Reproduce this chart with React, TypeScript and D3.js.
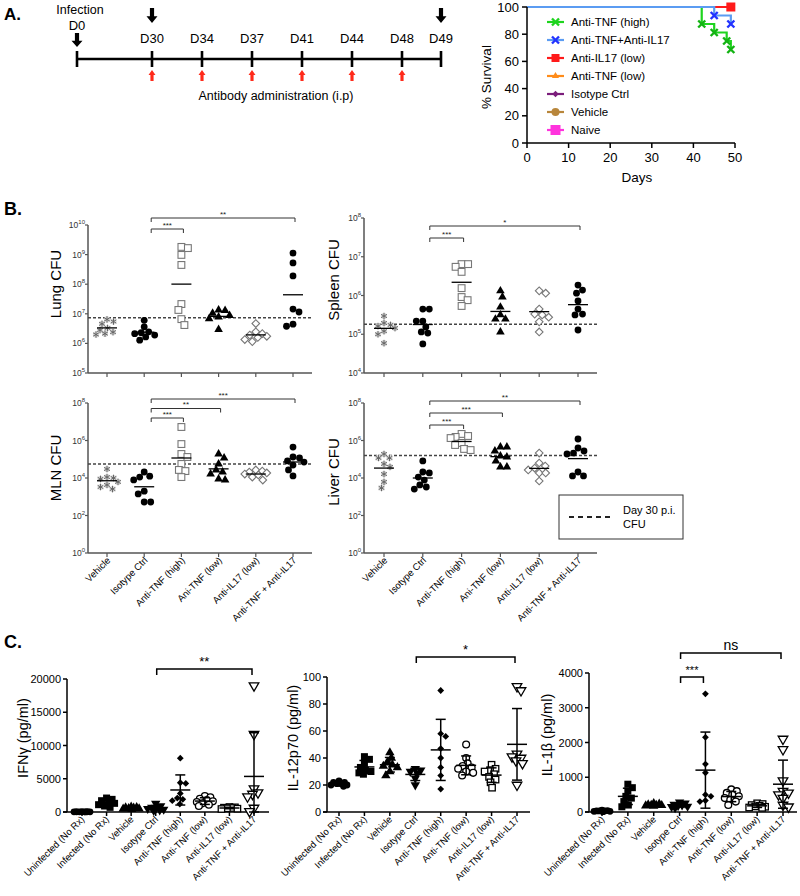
import React from 'react';
import * as d3 from 'd3';

const FONT = "'Liberation Sans', Arial, Helvetica, sans-serif";

// ---------------- Panel A: timeline ----------------
const timelineStart = 'D0';
const timelineDoses = ['D30', 'D34', 'D37', 'D41', 'D44', 'D48'];
const timelineEnd = 'D49';
const harvestDays = ['D30', 'D49'];

// ---------------- Panel A: survival ----------------
const survivalNames = ['Anti-TNF (high)', 'Anti-TNF+Anti-IL17', 'Anti-IL17 (low)', 'Anti-TNF (low)', 'Isotype Ctrl', 'Vehicle', 'Naive'];
const survTnfHighDays = [0, 42, 45, 48, 49];
const survTnfHighPct = [100, 87.5, 81.25, 75, 68.75];
const survComboDays = [0, 45, 49];
const survComboPct = [100, 93.75, 87.5];
const survFlatDays = [0, 49];
const survFlatPct = [100, 100];
const survTicksX = [0, 10, 20, 30, 40, 50];
const survTicksY = [0, 20, 40, 60, 80, 100];

// ---------------- Panel B: CFU (log10) ----------------
const cfuGroups = ['Vehicle', 'Isotype Ctrl', 'Anti-TNF (high)', 'Ani-TNF (low)', 'Anti-IL17 (low)', 'Anti-TNF + Anti-IL17'];
const cfuMarkers = ['asterisk', 'dot', 'squareOpen', 'triangle', 'diamondOpen', 'dot'];

const lungVehicle = [6.81, 6.74, 6.66, 6.52, 6.45, 6.38, 6.33, 6.30];
const lungIsotype = [6.78, 6.56, 6.39, 6.36, 6.33, 6.28, 6.22, 6.11];
const lungTnfHigh = [9.26, 9.22, 8.99, 8.65, 7.33, 7.13, 6.82, 6.62];
const lungTnfLow = [7.13, 7.11, 7.02, 6.94, 6.89, 6.83, 6.47];
const lungIl17 = [6.67, 6.39, 6.33, 6.28, 6.24, 6.20, 6.13, 6.06];
const lungCombo = [9.05, 8.72, 8.28, 7.16, 7.06, 6.65, 6.58];
const lungDay30 = 6.865;

const spleenVehicle = [5.47, 5.29, 5.24, 5.21, 5.16, 5.08, 5.00, 4.77];
const spleenIsotype = [5.65, 5.65, 5.34, 5.34, 5.19, 5.06, 5.03, 4.75];
const spleenTnfHigh = [6.81, 6.81, 6.74, 6.61, 6.19, 5.96, 5.88, 5.73];
const spleenTnfLow = [6.12, 5.96, 5.70, 5.50, 5.39, 5.39, 5.06];
const spleenIl17 = [6.12, 6.06, 5.65, 5.52, 5.50, 5.44, 5.32, 5.06];
const spleenCombo = [6.27, 6.14, 6.06, 5.86, 5.65, 5.52, 5.50, 5.11];
const spleenDay30 = 5.26;

const mlnVehicle = [4.48, 4.05, 3.95, 4.00, 3.79, 3.63, 3.52, 3.41];
const mlnIsotype = [4.32, 4.10, 4.05, 3.90, 3.30, 3.15, 2.72, 2.72];
const mlnTnfHigh = [6.72, 5.81, 5.28, 5.12, 4.75, 4.43, 4.37, 4.05];
const mlnTnfLow = [5.28, 5.07, 4.75, 4.43, 4.32, 4.21, 3.95, 3.89];
const mlnIl17 = [4.43, 4.37, 4.32, 4.27, 4.21, 4.16, 4.05, 3.89];
const mlnCombo = [5.65, 5.12, 5.07, 4.91, 4.85, 4.69, 4.43, 4.11];
const mlnDay30 = 4.75;

const liverVehicle = [5.28, 5.07, 5.07, 4.75, 4.59, 4.21, 3.79, 3.47];
const liverIsotype = [4.91, 4.32, 4.27, 4.05, 3.89, 3.63, 3.52, 3.41];
const liverTnfHigh = [6.35, 6.24, 6.19, 6.13, 5.87, 5.76, 5.55, 5.49];
const liverTnfLow = [5.65, 5.65, 5.44, 5.17, 5.12, 4.91, 4.59, 4.59];
const liverIl17 = [5.33, 4.80, 4.64, 4.53, 4.43, 4.27, 4.27, 3.84];
const liverCombo = [6.08, 5.60, 5.44, 5.33, 5.28, 4.32, 4.11, 4.11];
const liverDay30 = 5.2;

// ---------------- Panel C: cytokines ----------------
const cytoGroups = ['Uninfected (No Rx)', 'Infected (No Rx)', 'Vehicle', 'Isotype Ctrl', 'Anti-TNF (high)', 'Anti-TNF (low)', 'Anti-IL17 (low)', 'Anti-TNF + Anti-IL17'];
const cytoMarkers = ['dot', 'square', 'triangle', 'triangleDown', 'diamond', 'circleOpen', 'squareOpen', 'triangleDownOpen'];

const ifnUninf = [60, 40, 30, 20, 10, 50, 20, 30];
const ifnInf = [2100, 1900, 1700, 1500, 1300, 1100, 900, 700];
const ifnVehicle = [750, 700, 650, 600, 550, 500, 450, 400];
const ifnIsotype = [1300, 900, 700, 600, 500, 400, 300, 200];
const ifnTnfHigh = [8100, 4400, 4300, 2800, 2100, 1900, 1700, 1200];
const ifnTnfLow = [2400, 2200, 2000, 1800, 1600, 1500, 1300, 1100, 900];
const ifnIl17 = [750, 700, 650, 600, 550, 500, 450];
const ifnCombo = [19000, 11700, 3500, 2900, 2700, 2300, 600, 100];
const ifnTicks = [0, 5000, 10000, 15000, 20000];

const il12Uninf = [23, 22, 22, 21, 21, 20, 20, 19];
const il12Inf = [41, 39, 36, 33, 30, 29, 28, 31];
const il12Vehicle = [44, 40, 37, 35, 34, 33, 30, 27];
const il12Isotype = [32, 31, 30, 29, 25, 20];
const il12TnfHigh = [90, 58, 56, 47, 40, 33, 27, 17];
const il12TnfLow = [50, 40, 36, 34, 33, 32, 30, 29, 27];
const il12Il17 = [35, 32, 31, 30, 28, 26, 24, 22, 18];
const il12Combo = [93, 90, 43, 41, 40, 38, 36, 20];
const il12Ticks = [0, 20, 40, 60, 80, 100];

const il1bUninf = [50, 40, 30, 30, 20, 20, 10, 30];
const il1bInf = [800, 700, 600, 450, 400, 300, 200, 150];
const il1bVehicle = [250, 230, 210, 200, 190, 180, 170, 200];
const il1bIsotype = [280, 250, 220, 200, 180, 150, 120, 160];
const il1bTnfHigh = [3400, 2150, 1380, 1130, 500, 450, 330, 300];
const il1bTnfLow = [650, 600, 550, 500, 450, 400, 350, 300, 200];
const il1bIl17 = [250, 230, 200, 180, 160, 150, 130, 120];
const il1bCombo = [2100, 1800, 900, 600, 550, 500, 400, 200, 150];
const il1bTicks = [0, 1000, 2000, 3000, 4000];

// ---------------- helpers ----------------
function swarm(ys: number[], d: number, maxOff: number): number[] {
  const order = ys.map((_, i) => i).sort((a, b) => ys[a] - ys[b]);
  const placed: [number, number][] = [];
  const out: number[] = new Array(ys.length).fill(0);
  let flip = 1;
  for (const i of order) {
    const yv = ys[i];
    let chosen = 0;
    let bestScore = Infinity;
    let found = false;
    for (let k = 0; k <= maxOff * 2 && !found; k++) {
      const off = k * 0.5;
      const cands = off === 0 ? [0] : [flip * off, -flip * off];
      for (const c of cands) {
        let minD = Infinity;
        for (const [px, py] of placed) minD = Math.min(minD, Math.hypot(px - c, py - yv));
        if (minD >= d) { chosen = c; found = true; break; }
        const score = -minD;
        if (score < bestScore) { bestScore = score; chosen = c; }
      }
    }
    if (chosen !== 0) flip = -flip;
    out[i] = chosen;
    placed.push([chosen, yv]);
  }
  return out;
}

const sym = (t: any, s: number) => d3.symbol().type(t).size(s)() as string;

function Mark({ kind, x, y }: { kind: string; x: number; y: number }) {
  const tr = `translate(${x},${y})`;
  switch (kind) {
    case 'asterisk':
      return (
        <g transform={tr}>
          <circle r={3.1} fill="#d8d8d8" />
          <path d={sym(d3.symbolAsterisk, 30)} stroke="#666" strokeWidth={1} fill="none" />
        </g>
      );
    case 'dot':
      return <circle cx={x} cy={y} r={3.4} fill="#000" />;
    case 'squareOpen':
      return <rect x={x - 3.4} y={y - 3.4} width={6.8} height={6.8} fill="#fff" stroke="#777" strokeWidth={1.1} />;
    case 'triangle':
      return <path transform={tr} d={sym(d3.symbolTriangle, 32)} fill="#000" />;
    case 'diamondOpen':
      return <rect transform={tr + ' rotate(45)'} x={-2.7} y={-2.7} width={5.4} height={5.4} fill="#fff" stroke="#777" strokeWidth={1.1} />;
    // panel C kinds
    case 'cDot':
      return <circle cx={x} cy={y} r={3.4} fill="#000" />;
    case 'cSquare':
      return <rect x={x - 3.5} y={y - 3.5} width={7} height={7} fill="#000" />;
    case 'cTriangle':
      return <path transform={tr} d={sym(d3.symbolTriangle, 38)} fill="#000" />;
    case 'cTriangleDown':
      return <path transform={tr + ' rotate(180)'} d={sym(d3.symbolTriangle, 38)} fill="#000" />;
    case 'cTriangleDownOpen':
      return <path transform={tr + ' rotate(180)'} d={sym(d3.symbolTriangle, 40)} fill="#fff" stroke="#000" strokeWidth={1.3} />;
    case 'cDiamond':
      return <rect transform={tr + ' rotate(45)'} x={-2.4} y={-2.4} width={4.8} height={4.8} fill="#000" />;
    case 'cCircleOpen':
      return <circle cx={x} cy={y} r={3.4} fill="#fff" stroke="#000" strokeWidth={1.3} />;
    case 'cSquareOpen':
      return <rect x={x - 3.2} y={y - 3.2} width={6.4} height={6.4} fill="#fff" stroke="#000" strokeWidth={1.3} />;
    default:
      return null;
  }
}

// ---------------- Panel A ----------------
function DownArrow({ x, y0, y1, w, color }: any) {
  const head = (y1 - y0) * 0.45;
  const sw = w * 0.38;
  const d = `M${x - sw / 2},${y0} L${x + sw / 2},${y0} L${x + sw / 2},${y1 - head} L${x + w / 2},${y1 - head} L${x},${y1} L${x - w / 2},${y1 - head} L${x - sw / 2},${y1 - head} Z`;
  return <path d={d} fill={color} />;
}
function UpArrow({ x, y0, y1, w, color }: any) {
  const head = (y1 - y0) * 0.45;
  const sw = w * 0.45;
  const d = `M${x},${y0} L${x + w / 2},${y0 + head} L${x + sw / 2},${y0 + head} L${x + sw / 2},${y1} L${x - sw / 2},${y1} L${x - sw / 2},${y0 + head} L${x - w / 2},${y0 + head} Z`;
  return <path d={d} fill={color} />;
}

function Timeline() {
  const x0 = 77, x1 = 441, ly = 59;
  const xd = d3.scalePoint<string>().domain(timelineDoses).range([152, 402]);
  const pos = (d: string) => (d === timelineStart ? x0 : d === timelineEnd ? x1 : (xd(d) as number));
  const all = [timelineStart, ...timelineDoses, timelineEnd];
  return (
    <g>
      <text x={4} y={20} fontSize={17} fontWeight="bold">A.</text>
      <line x1={x0} x2={x1} y1={ly} y2={ly} stroke="#000" strokeWidth={2.6} />
      {all.map((d) => (
        <line key={d} x1={pos(d)} x2={pos(d)} y1={51} y2={67} stroke="#000" strokeWidth={2.6} />
      ))}
      {all.map((d) => (
        <text key={'t' + d} x={pos(d)} y={d === timelineStart ? 30 : 43} fontSize={13} textAnchor="middle">{d}</text>
      ))}
      <text x={x0 + 3} y={14} fontSize={12.5} textAnchor="middle">Infection</text>
      <DownArrow x={x0} y0={33} y1={47} w={11} color="#000" />
      {harvestDays.map((d) => (
        <DownArrow key={'h' + d} x={pos(d)} y0={8} y1={23} w={11} color="#000" />
      ))}
      {timelineDoses.map((d) => (
        <UpArrow key={'u' + d} x={pos(d)} y0={70} y1={81} w={7} color="#ff2a1a" />
      ))}
      <text x={276} y={100} fontSize={12.5} textAnchor="middle">Antibody administration (i.p)</text>
    </g>
  );
}

function Survival() {
  const x = d3.scaleLinear().domain([0, 50]).range([527, 735]);
  const y = d3.scaleLinear().domain([0, 100]).range([143, 7]);
  const line = d3.line<[number, number]>().x((d) => x(d[0])).y((d) => y(d[1])).curve(d3.curveStepAfter);
  const zip = (a: number[], b: number[]) => a.map((v, i) => [v, b[i]] as [number, number]);
  const green = '#1ed41e', blue = '#5b9cf2', blueMark = '#2233ff', red = '#ff1a1a';
  const otherColors = ['#ff8c1a', '#7b1d7b', '#b8863b', '#ff33dd'];
  const legendColors = [green, blue, red, '#ff8c1a', '#7b1d7b', '#b8863b', '#ff33dd'];
  const legendY = d3.scalePoint<string>().domain(survivalNames).range([22, 130]);
  const times = sym(d3.symbolTimes, 34);
  const legendMark = (i: number, cx: number, cy: number) => {
    const c = legendColors[i];
    const tr = `translate(${cx},${cy})`;
    if (i === 0) return <path transform={tr} d={times} stroke={green} strokeWidth={2.4} fill="none" />;
    if (i === 1) return <path transform={tr} d={times} stroke={blueMark} strokeWidth={2.4} fill="none" />;
    if (i === 2) return <rect x={cx - 4} y={cy - 4} width={8} height={8} fill={c} />;
    if (i === 3) return <path transform={tr} d={sym(d3.symbolTriangle, 22)} fill={c} />;
    if (i === 4) return <rect transform={tr + ' rotate(45)'} x={-2.3} y={-2.3} width={4.6} height={4.6} fill={c} />;
    if (i === 5) return <circle cx={cx} cy={cy} r={4} fill={c} />;
    return <rect x={cx - 5} y={cy - 5} width={10} height={10} fill={c} />;
  };
  return (
    <g>
      {otherColors.map((c, i) => (
        <path key={i} d={line(zip(survFlatDays, survFlatPct)) as string} stroke={c} strokeWidth={2} fill="none" />
      ))}
      <path d={line(zip(survFlatDays, survFlatPct)) as string} stroke={red} strokeWidth={2.2} fill="none" />
      <path d={line(zip(survTnfHighDays, survTnfHighPct)) as string} stroke={green} strokeWidth={2.2} fill="none" />
      <path d={line(zip(survComboDays, survComboPct)) as string} stroke={blue} strokeWidth={2.2} fill="none" />
      <rect x={x(49) - 4.5} y={y(100) - 4.5} width={9} height={9} fill={red} />
      {survComboDays.slice(1).map((d, i) => (
        <path key={'b' + i} transform={`translate(${x(d)},${y(survComboPct[i + 1])})`} d={times} stroke={blueMark} strokeWidth={2.4} fill="none" />
      ))}
      {survTnfHighDays.slice(1).map((d, i) => (
        <path key={'g' + i} transform={`translate(${x(d)},${y(survTnfHighPct[i + 1])})`} d={times} stroke="#13b313" strokeWidth={2.4} fill="none" />
      ))}
      <line x1={527} x2={527} y1={y(100)} y2={y(0)} stroke="#000" strokeWidth={1.5} />
      <line x1={527} x2={x(50)} y1={y(0)} y2={y(0)} stroke="#000" strokeWidth={1.5} />
      {survTicksY.map((t) => (
        <g key={'y' + t}>
          <line x1={522} x2={527} y1={y(t)} y2={y(t)} stroke="#000" strokeWidth={1.5} />
          <text x={519} y={y(t) + 4.5} fontSize={13} textAnchor="end">{t}</text>
        </g>
      ))}
      {survTicksX.map((t) => (
        <g key={'x' + t}>
          <line x1={x(t)} x2={x(t)} y1={143} y2={148} stroke="#000" strokeWidth={1.5} />
          <text x={x(t)} y={162} fontSize={13} textAnchor="middle">{t}</text>
        </g>
      ))}
      <text x={637} y={182} fontSize={13.5} textAnchor="middle">Days</text>
      <text transform={`translate(491,77) rotate(-90)`} fontSize={13.5} textAnchor="middle">% Survival</text>
      {survivalNames.map((n, i) => {
        const ly = legendY(n) as number;
        return (
          <g key={n}>
            <line x1={547} x2={564} y1={ly} y2={ly} stroke={i === 1 ? blue : legendColors[i]} strokeWidth={2.2} />
            {legendMark(i, 555.5, ly)}
            <text x={571} y={ly + 4} fontSize={11.5}>{n}</text>
          </g>
        );
      })}
    </g>
  );
}

// ---------------- Panel B ----------------
type Br = { from: number; to: number; label: string };

function CfuPanel(p: any) {
  const { axisX, axisEnd, yTop, yBottom, expMin, expMax, tickStep, groupRange, series, day30, ylabel, labelX, labelY, brackets, bracketBase, bracketStep, showXLabels } = p;
  const y = d3.scaleLog().domain([10 ** expMin, 10 ** expMax]).range([yBottom, yTop]);
  const x = d3.scalePoint<string>().domain(cfuGroups).range(groupRange);
  const exps = d3.range(expMin, expMax + 0.001, tickStep);
  const axisColor = '#555';
  return (
    <g>
      <line x1={axisX} x2={axisX} y1={yTop} y2={yBottom} stroke={axisColor} strokeWidth={1.5} />
      <line x1={axisX} x2={axisEnd} y1={yBottom} y2={yBottom} stroke={axisColor} strokeWidth={1.5} />
      {exps.map((e: number) => (
        <g key={e}>
          <line x1={axisX - 3} x2={axisX} y1={y(10 ** e)} y2={y(10 ** e)} stroke={axisColor} strokeWidth={1.2} />
          <text x={axisX - 3} y={y(10 ** e) + 3} fontSize={8.5} textAnchor="end" fill="#333">
            10<tspan fontSize={6} dy={-4}>{e}</tspan>
          </text>
        </g>
      ))}
      {cfuGroups.map((g) => (
        <line key={g} x1={x(g)} x2={x(g)} y1={yBottom} y2={yBottom + 4} stroke={axisColor} strokeWidth={1.2} />
      ))}
      <line x1={axisX} x2={axisEnd} y1={y(10 ** day30)} y2={y(10 ** day30)} stroke="#444" strokeWidth={1.6} strokeDasharray="3,2" />
      {cfuGroups.map((g, gi) => {
        const vals: number[] = series[gi];
        const ys = vals.map((v) => y(10 ** v));
        const offs = swarm(ys, 6.5, 11);
        const gm = d3.mean(vals) as number;
        const cx = x(g) as number;
        return (
          <g key={'s' + g}>
            {vals.map((v, i) => (
              <Mark key={i} kind={cfuMarkers[gi]} x={cx + offs[i]} y={ys[i]} />
            ))}
            <line x1={cx - 10} x2={cx + 10} y1={y(10 ** gm)} y2={y(10 ** gm)} stroke="#000" strokeWidth={1.3} />
          </g>
        );
      })}
      {brackets.map((b: Br, i: number) => {
        const by = bracketBase - i * bracketStep;
        const bx0 = (x(cfuGroups[b.from]) as number) + 7;
        const bx1 = (x(cfuGroups[b.to]) as number) + 2;
        return (
          <g key={'br' + i}>
            <path d={`M${bx0},${by + 4} L${bx0},${by} L${bx1},${by} L${bx1},${by + 4}`} fill="none" stroke="#333" strokeWidth={1} />
            <text x={(bx0 + bx1) / 2} y={by - 1.5} fontSize={8} textAnchor="middle" fill="#222">{b.label}</text>
          </g>
        );
      })}
      <text transform={`translate(${labelX},${labelY}) rotate(-90)`} fontSize={15} textAnchor="middle">{ylabel}</text>
      {showXLabels &&
        cfuGroups.map((g) => (
          <text key={'xl' + g} transform={`translate(${(x(g) as number) + 4},${yBottom + 8}) rotate(-45)`} fontSize={9.5} textAnchor="end">{g}</text>
        ))}
    </g>
  );
}

// ---------------- Panel C ----------------
function CytoPanel(p: any) {
  const { axisX, axisEnd, yTop, max, ticks, groupRange, series, ylabel, labelX, labelY, brackets } = p;
  const yBottom = 812;
  const y = d3.scaleLinear().domain([0, max]).range([yBottom, yTop]);
  const x = d3.scalePoint<string>().domain(cytoGroups).range(groupRange);
  return (
    <g>
      <line x1={axisX} x2={axisX} y1={yTop} y2={yBottom} stroke="#000" strokeWidth={1.5} />
      <line x1={axisX - 4} x2={axisEnd} y1={yBottom} y2={yBottom} stroke="#000" strokeWidth={1.5} />
      {ticks.map((t: number) => (
        <g key={t}>
          <line x1={axisX - 4} x2={axisX} y1={y(t)} y2={y(t)} stroke="#000" strokeWidth={1.5} />
          <text x={axisX - 6} y={y(t) + 4} fontSize={11} textAnchor="end">{t}</text>
        </g>
      ))}
      {cytoGroups.map((g) => (
        <line key={'t' + g} x1={x(g)} x2={x(g)} y1={yBottom} y2={yBottom + 4} stroke="#000" strokeWidth={1.5} />
      ))}
      {cytoGroups.map((g, gi) => {
        const vals: number[] = series[gi];
        const ys = vals.map((v) => y(v));
        const offs = swarm(ys, 5.5, 8);
        const m = d3.mean(vals) as number;
        const sd = d3.deviation(vals) as number;
        const cx = x(g) as number;
        const kind = 'c' + cytoMarkers[gi].charAt(0).toUpperCase() + cytoMarkers[gi].slice(1);
        return (
          <g key={'s' + g}>
            {vals.map((v, i) => (
              <Mark key={i} kind={kind} x={cx + offs[i]} y={ys[i]} />
            ))}
            <line x1={cx} x2={cx} y1={y(m + sd)} y2={y(Math.max(0, m - sd))} stroke="#000" strokeWidth={1.5} />
            <line x1={cx - 5} x2={cx + 5} y1={y(m + sd)} y2={y(m + sd)} stroke="#000" strokeWidth={1.5} />
            <line x1={cx - 5} x2={cx + 5} y1={y(Math.max(0, m - sd))} y2={y(Math.max(0, m - sd))} stroke="#000" strokeWidth={1.5} />
            <line x1={cx - 10} x2={cx + 10} y1={y(m)} y2={y(m)} stroke="#000" strokeWidth={1.5} />
          </g>
        );
      })}
      {brackets.map((b: any, i: number) => {
        const bx0 = (x(cytoGroups[b.from]) as number) + 1;
        const bx1 = (x(cytoGroups[b.to]) as number) - 2;
        return (
          <g key={'br' + i}>
            <path d={`M${bx0},${b.y + 6} L${bx0},${b.y} L${bx1},${b.y} L${bx1},${b.y + 6}`} fill="none" stroke="#000" strokeWidth={1.5} />
            <text x={(bx0 + bx1) / 2} y={b.y - 3} fontSize={b.size} textAnchor="middle">{b.label}</text>
          </g>
        );
      })}
      <text transform={`translate(${labelX},${labelY}) rotate(-90)`} fontSize={14.5} textAnchor="middle">{ylabel}</text>
      {cytoGroups.map((g) => (
        <text key={'xl' + g} transform={`translate(${(x(g) as number) + 3},${yBottom + 8}) rotate(-45)`} fontSize={9.5} textAnchor="end">{g}</text>
      ))}
    </g>
  );
}

export default function App() {
  return (
    <svg width={800} height={896} style={{ position: 'absolute', left: 0, top: 0, display: 'block' }} fontFamily={FONT}>
      <rect width={800} height={896} fill="#fff" />
      <Timeline />
      <Survival />
      <text x={4} y={215} fontSize={18} fontWeight="bold">B.</text>
      <CfuPanel axisX={88} axisEnd={312} yTop={225} yBottom={373} expMin={5} expMax={10} tickStep={1} groupRange={[107, 293]}
        series={[lungVehicle, lungIsotype, lungTnfHigh, lungTnfLow, lungIl17, lungCombo]} day30={lungDay30}
        ylabel="Lung CFU" labelX={61} labelY={284}
        brackets={[{ from: 1, to: 2, label: '***' }, { from: 1, to: 5, label: '**' }]} bracketBase={229} bracketStep={11} />
      <CfuPanel axisX={364} axisEnd={597} yTop={218} yBottom={373} expMin={4} expMax={8} tickStep={1} groupRange={[384, 578]}
        series={[spleenVehicle, spleenIsotype, spleenTnfHigh, spleenTnfLow, spleenIl17, spleenCombo]} day30={spleenDay30}
        ylabel="Spleen CFU" labelX={339} labelY={280}
        brackets={[{ from: 1, to: 2, label: '***' }, { from: 1, to: 5, label: '*' }]} bracketBase={238} bracketStep={12} />
      <CfuPanel axisX={88} axisEnd={312} yTop={403} yBottom={553} expMin={0} expMax={8} tickStep={2} groupRange={[107, 293]}
        series={[mlnVehicle, mlnIsotype, mlnTnfHigh, mlnTnfLow, mlnIl17, mlnCombo]} day30={mlnDay30}
        ylabel="MLN CFU" labelX={61} labelY={468}
        brackets={[{ from: 1, to: 2, label: '***' }, { from: 1, to: 3, label: '**' }, { from: 1, to: 5, label: '***' }]} bracketBase={418} bracketStep={9.5} showXLabels />
      <CfuPanel axisX={364} axisEnd={597} yTop={403} yBottom={553} expMin={0} expMax={8} tickStep={2} groupRange={[384, 578]}
        series={[liverVehicle, liverIsotype, liverTnfHigh, liverTnfLow, liverIl17, liverCombo]} day30={liverDay30}
        ylabel="Liver CFU" labelX={339} labelY={472}
        brackets={[{ from: 1, to: 2, label: '***' }, { from: 1, to: 3, label: '***' }, { from: 1, to: 5, label: '**' }]} bracketBase={425} bracketStep={12} showXLabels />
      <g>
        <rect x={559} y={495} width={124} height={44} fill="#fff" stroke="#333" strokeWidth={1} />
        <line x1={569} x2={612} y1={517} y2={517} stroke="#222" strokeWidth={1.8} strokeDasharray="5,4" />
        <text x={623} y={514} fontSize={11}>Day 30 p.i.</text>
        <text x={623} y={528} fontSize={11}>CFU</text>
      </g>
      <text x={4} y={648} fontSize={18} fontWeight="bold">C.</text>
      <CytoPanel axisX={67} axisEnd={269} yTop={679} max={20000} ticks={ifnTicks} groupRange={[82, 254]}
        series={[ifnUninf, ifnInf, ifnVehicle, ifnIsotype, ifnTnfHigh, ifnTnfLow, ifnIl17, ifnCombo]}
        ylabel="IFNγ (pg/ml)" labelX={28} labelY={738}
        brackets={[{ from: 3, to: 7, label: '**', y: 669, size: 13 }]} />
      <CytoPanel axisX={327} axisEnd={530} yTop={677} max={100} ticks={il12Ticks} groupRange={[339, 517]}
        series={[il12Uninf, il12Inf, il12Vehicle, il12Isotype, il12TnfHigh, il12TnfLow, il12Il17, il12Combo]}
        ylabel="IL-12p70 (pg/ml)" labelX={298} labelY={738}
        brackets={[{ from: 3, to: 7, label: '*', y: 657, size: 13 }]} />
      <CytoPanel axisX={589} axisEnd={797} yTop={673} max={4000} ticks={il1bTicks} groupRange={[602, 783]}
        series={[il1bUninf, il1bInf, il1bVehicle, il1bIsotype, il1bTnfHigh, il1bTnfLow, il1bIl17, il1bCombo]}
        ylabel="IL-1β (pg/ml)" labelX={552} labelY={735}
        brackets={[{ from: 3, to: 7, label: 'ns', y: 653, size: 14 }, { from: 3, to: 4, label: '***', y: 677, size: 11 }]} />
    </svg>
  );
}
